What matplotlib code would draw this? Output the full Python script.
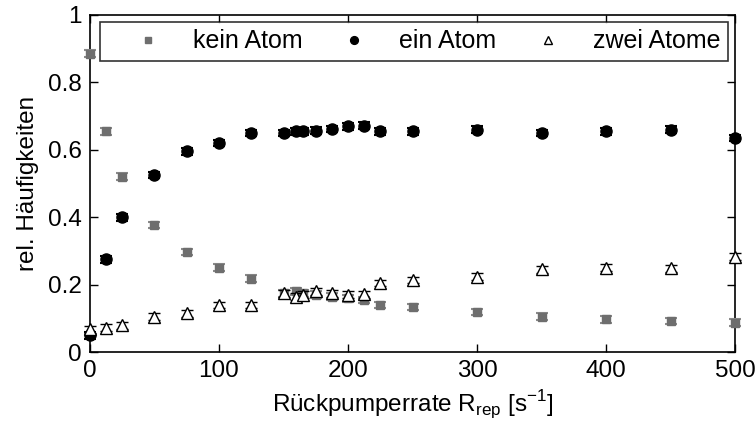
import matplotlib
matplotlib.use("Agg")
import matplotlib.pyplot as plt

plt.rcParams['font.family'] = ['Liberation Sans', 'DejaVu Sans']

# Rückpumperrate [1/s]
rate = [0, 12.5, 25, 50, 75, 100, 125, 150, 160, 165, 175, 187.5, 200, 212.5, 225,
        250, 300, 350, 400, 450, 500]

# relative frequencies
kein = [0.885, 0.655, 0.52, 0.377, 0.297, 0.25, 0.218, 0.175, 0.18, 0.175, 0.17,
        0.165, 0.16, 0.155, 0.14, 0.134, 0.119, 0.105, 0.097, 0.092, 0.087]
ein = [0.05, 0.275, 0.40, 0.525, 0.595, 0.62, 0.65, 0.65, 0.655, 0.655, 0.657,
       0.662, 0.67, 0.672, 0.655, 0.655, 0.66, 0.65, 0.655, 0.66, 0.635]
zwei = [0.068, 0.072, 0.08, 0.105, 0.115, 0.14, 0.14, 0.175, 0.165, 0.17, 0.18,
        0.175, 0.17, 0.172, 0.205, 0.214, 0.224, 0.246, 0.25, 0.249, 0.283]

err_kein = [0.01] * len(rate)
err_ein = [0.01] * len(rate)
err_zwei = [0.01] * len(rate)

fig = plt.figure(figsize=(7.55, 4.38), dpi=100)
ax = fig.add_axes([0.119, 0.196, 0.855, 0.770])

ax.errorbar(rate, kein, yerr=err_kein, fmt='s', color='#6e6e6e', ecolor='#8a8a8a',
            markersize=6, capsize=4.5, capthick=1.5, elinewidth=1.2, label='kein Atom',
            clip_on=False, zorder=3)
ax.errorbar(rate, ein, yerr=err_ein, fmt='o', color='black', markersize=8,
            capsize=4.5, capthick=1.5, elinewidth=1.2, label='ein Atom',
            clip_on=False, zorder=4)
ax.errorbar(rate, zwei, yerr=err_zwei, fmt='^', mfc='white', mec='black',
            color='black', markersize=8, mew=1.0, capsize=4.5, capthick=1.5,
            elinewidth=1.2, label='zwei Atome', clip_on=False, zorder=5)

ax.set_xlim(0, 500)
ax.set_ylim(0, 1)
ax.set_xticks([0, 100, 200, 300, 400, 500])
ax.set_yticks([0, 0.2, 0.4, 0.6, 0.8, 1])
ax.set_yticklabels(['0', '0.2', '0.4', '0.6', '0.8', '1'])
ax.tick_params(direction='in', top=True, right=True, length=6, width=1,
               labelsize=17.5, pad=6)
for s in ax.spines.values():
    s.set_linewidth(1.2)

ax.set_xlabel(r'Rückpumperrate R$_{\mathregular{rep}}$ [s$^{\mathregular{-1}}$]',
              fontsize=17.5, labelpad=4)
ax.set_ylabel('rel. Häufigkeiten', fontsize=17.5, labelpad=6)

handles, labels = ax.get_legend_handles_labels()
handles = [h[0] for h in handles]
leg = ax.legend(handles, labels, ncol=3, loc='upper center',
                fontsize=18, frameon=True, fancybox=False, edgecolor='black',
                markerscale=0.7, borderaxespad=0.0, borderpad=0.3,
                handlelength=3.3, handletextpad=0.15, columnspacing=0.4,
                bbox_to_anchor=(0.5016, 0.979))
leg.get_frame().set_linewidth(1.2)

fig.savefig('out.png', dpi=100)
